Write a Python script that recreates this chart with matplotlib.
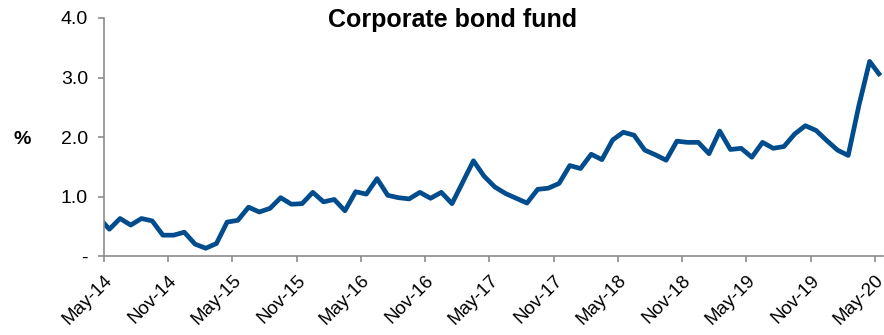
import numpy as np
import pandas as pd
import matplotlib
matplotlib.use("Agg")
import matplotlib.pyplot as plt
from matplotlib.transforms import ScaledTranslation

plt.rcParams['font.family'] = ['Liberation Sans', 'DejaVu Sans']

# Monthly series, Apr-14 through May-20 (%)
months = pd.period_range("2014-04", "2020-05", freq="M")
values = [
    0.65,
    0.45, 0.63, 0.52, 0.63, 0.59, 0.35, 0.35, 0.40, 0.20, 0.13, 0.21, 0.57,
    0.60, 0.82, 0.74, 0.80, 0.98, 0.87, 0.88, 1.07, 0.91, 0.95, 0.76, 1.08,
    1.04, 1.30, 1.02, 0.98, 0.96, 1.07, 0.97, 1.07, 0.88, 1.24, 1.60, 1.34,
    1.16, 1.05, 0.97, 0.89, 1.12, 1.14, 1.22, 1.52, 1.47, 1.71, 1.62, 1.95,
    2.08, 2.03, 1.78, 1.70, 1.61, 1.93, 1.91, 1.91, 1.72, 2.10, 1.79, 1.81,
    1.66, 1.91, 1.81, 1.84, 2.05, 2.19, 2.11, 1.94, 1.78, 1.69, 2.53, 3.27,
    3.03,
]
title = "Corporate bond fund"
y_ticks = [0.0, 1.0, 2.0, 3.0, 4.0]
y_tick_labels = ["-", "1.0", "2.0", "3.0", "4.0"]

start = pd.Period("2014-05", freq="M")
month_idx = np.array([(m - start).n for m in months])
x = month_idx + 0.5  # each month plotted mid-interval

tick_periods = [m for m in months if (m - start).n >= 0 and (m - start).n % 6 == 0]
tick_pos = [(p - start).n for p in tick_periods]
tick_labels = [p.strftime("%b-%y") for p in tick_periods]

fig = plt.figure(figsize=(8.84, 3.35), dpi=100)
ax = fig.add_axes([104 / 884, 79 / 335, 779 / 884, 238 / 335])

ax.plot(x, values, color="#004C8C", linewidth=3.4, solid_joinstyle="round",
        solid_capstyle="butt")

ax.set_xlim(0, 72.75)
ax.set_ylim(0, 4.0)

ax.set_yticks(y_ticks)
ax.set_yticklabels(y_tick_labels, fontsize=14)
ax.set_xticks(tick_pos)
ax.set_xticklabels(tick_labels, fontsize=13.5, rotation=45, ha="right",
                   va="top", rotation_mode="anchor")
shift = ScaledTranslation(2 / 100, 0, fig.dpi_scale_trans)
for lbl in ax.get_xticklabels():
    lbl.set_transform(lbl.get_transform() + shift)

for side in ("top", "right"):
    ax.spines[side].set_visible(False)
for side in ("left", "bottom"):
    ax.spines[side].set_color("#8C8C8C")
    ax.spines[side].set_linewidth(1.2)

ax.tick_params(axis="y", length=4.5, width=1.2, color="#8C8C8C", pad=7)
ax.tick_params(axis="x", length=4.5, width=1.2, color="#8C8C8C", pad=7)

fig.text(453 / 884, 1 - 20 / 335, title, fontsize=18, fontweight="bold",
         ha="center", va="center")
fig.text(22 / 884, 1 - 140 / 335, "%", fontsize=14, fontweight="bold",
         ha="center", va="center")

fig.savefig("out.png", dpi=100)
